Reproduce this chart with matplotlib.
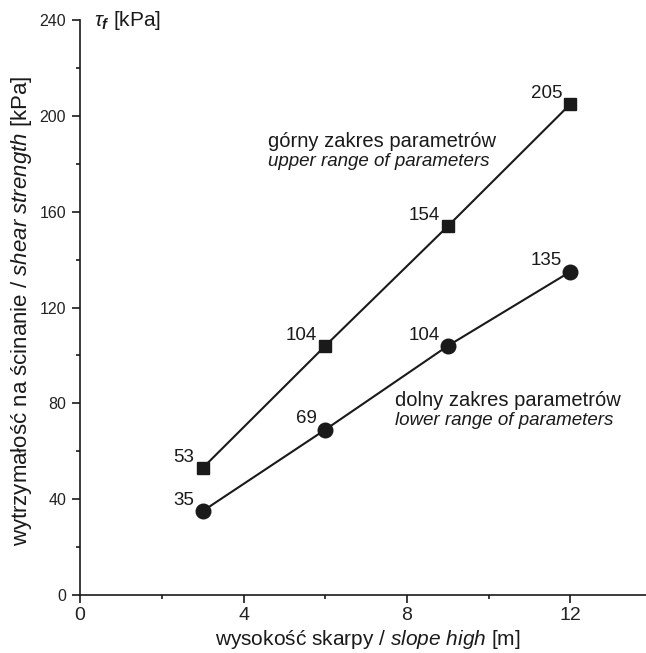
import matplotlib
matplotlib.use("Agg")
import matplotlib.pyplot as plt
from matplotlib.ticker import MultipleLocator

plt.rcParams['font.family'] = ['Liberation Sans', 'DejaVu Sans']
plt.rcParams['mathtext.fontset'] = 'custom'
plt.rcParams['mathtext.rm'] = 'Liberation Sans'
plt.rcParams['mathtext.it'] = 'Liberation Sans:italic'
plt.rcParams['mathtext.bf'] = 'Liberation Sans:bold:italic'

heights = [3, 6, 9, 12]
upper = [53, 104, 154, 205]
lower = [35, 69, 104, 135]
upper_labels = ["53", "104", "154", "205"]
lower_labels = ["35", "69", "104", "135"]

INK = '#1a1a1a'
fig = plt.figure(figsize=(6.46, 6.53), dpi=100)
ax = fig.add_axes([0.124, 0.089, 0.876, 0.880])

ax.plot(heights, upper, color=INK, lw=1.5, marker='s', ms=8, zorder=3)
ax.plot(heights, lower, color=INK, lw=1.5, marker='o', ms=10.5, zorder=3)

for xs, ys, labs in ((heights, upper, upper_labels), (heights, lower, lower_labels)):
    for x, y, t in zip(xs, ys, labs):
        ax.annotate(t, (x, y), xytext=(-6, 4.5), textcoords='offset points',
                    ha='right', va='baseline', fontsize=13.5, color=INK)

ax.text(4.6, 187, "górny zakres parametrów", fontsize=14.5, color=INK, va='baseline')
ax.text(4.6, 179, "upper range of parameters", fontsize=13.5, style='italic', color=INK, va='baseline')
ax.text(7.7, 79, "dolny zakres parametrów", fontsize=14.5, color=INK, va='baseline')
ax.text(7.7, 71, "lower range of parameters", fontsize=13.5, style='italic', color=INK, va='baseline')

ax.set_xlim(0, 13.85)
ax.set_ylim(0, 240)
ax.xaxis.set_major_locator(MultipleLocator(4))
ax.xaxis.set_minor_locator(MultipleLocator(2))
ax.yaxis.set_major_locator(MultipleLocator(40))
ax.yaxis.set_minor_locator(MultipleLocator(20))
ax.tick_params(axis='x', which='major', labelsize=14, length=6, width=1.2, pad=3,
               color=INK, labelcolor='#222222')
ax.tick_params(axis='x', which='minor', length=3, width=1.2, color=INK)
ax.tick_params(axis='y', which='major', labelsize=11.5, length=6, width=1.2, pad=4,
               color=INK, labelcolor='#222222')
ax.tick_params(axis='y', which='minor', length=3, width=1.2, color=INK)
for s in ['top', 'right']:
    ax.spines[s].set_visible(False)
for s in ['left', 'bottom']:
    ax.spines[s].set_linewidth(1.2)
    ax.spines[s].set_color(INK)

fig.text(368 / 646, 8 / 653, r"wysokość skarpy / $\mathit{slope\ high}$ [m]",
         fontsize=15, color=INK, ha='center', va='baseline')
fig.text(22 / 646, 1 - 311 / 653, r"wytrzymałość na ścinanie / $\mathit{shear\ strength}$ [kPa]",
         fontsize=16, color=INK, ha='center', va='center', rotation=90)
ax.text(0.35, 240, r"$\tau_{\mathbf{f}}$ [kPa]", fontsize=15, va='center', ha='left', color=INK)

fig.savefig("out.png", dpi=100)
